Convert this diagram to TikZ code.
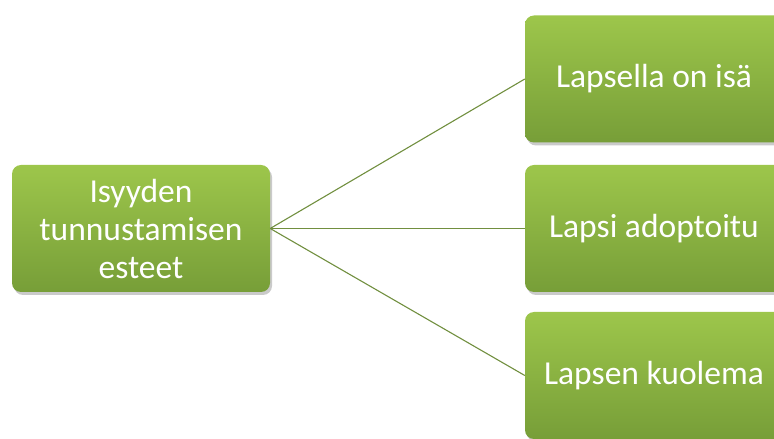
\documentclass[tikz,border=0pt]{standalone}
\usepackage{fontspec}
\setmainfont{Carlito}
\usetikzlibrary{shadows}
\definecolor{boxtop}{HTML}{9DC64B}
\definecolor{boxbot}{HTML}{779E38}
\definecolor{linkgreen}{HTML}{718F3F}
\tikzset{
  greenbox/.style={rectangle, rounded corners=9pt, minimum width=258pt, minimum height=127pt,
    top color=boxtop, bottom color=boxbot, draw=none, text=white, font=\fontsize{33.5}{38}\selectfont,
    align=center, drop shadow={shadow xshift=2pt, shadow yshift=-3pt, opacity=0.35, fill=black!60}},
  link/.style={draw=linkgreen, line width=1.1pt}
}
\begin{document}
\begin{tikzpicture}[x=1pt,y=1pt]
  \useasboundingbox (0,0) rectangle (774,439);
  \clip (0,0) rectangle (774,439);
  \pgfmathsetmacro{\rx}{654}
  \node[greenbox] (root) at (141,210.5) {Isyyden\\tunnustamisen\\esteet};
  \node[greenbox] (isa) at (\rx,360) {Lapsella on isä};
  \node[greenbox] (adopt) at (\rx,210.5) {Lapsi adoptoitu};
  \node[greenbox] (kuolema) at (\rx,63.5) {Lapsen kuolema};
  \draw[link] (root.east) -- (isa.west);
  \draw[link] (root.east) -- (adopt.west);
  \draw[link] (root.east) -- (kuolema.west);
\end{tikzpicture}
\end{document}
